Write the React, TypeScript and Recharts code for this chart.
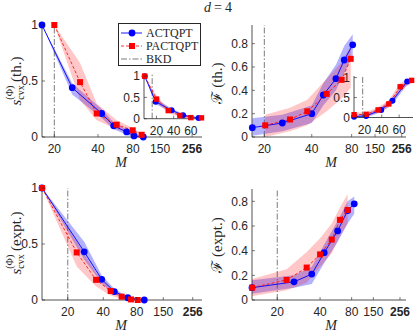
import React from 'react';
import { ComposedChart, Line, Area, XAxis, YAxis, ReferenceLine, Legend } from 'recharts';

const BLUE = '#0000ff';
const RED = '#ff0000';
const INK = '#262626';
const SANS = '"Liberation Sans", Arial, Helvetica, sans-serif';
const SERIF = '"Liberation Serif", "Times New Roman", "DejaVu Serif", serif';

// tick labels
const M_LABELS = ['20', '40', '80', '150', '256'];
const INSET_TICKS = [20, 40, 60];
const INSET_LABELS = ['20', '40', '60'];
const Y_TICKS_S = [0, 0.5, 1];
const Y_LABELS_S = ['0', '0.5', '1'];
const Y_TICKS_F = [0, 0.2, 0.4, 0.6, 0.8];
const Y_LABELS_F = ['0', '0.2', '0.4', '0.6', '0.8'];
const LEGEND_NAMES = ['ACTQPT', 'PACTQPT', 'BKD'];

// main panels: x is position along the (irregular) M axis, 0..100
// top-left: s_cvx (th.)
const TL_TICKS = [7.7, 35, 56.9, 73.8, 93.8];
const TL_BKD = 7.7;
const TL_A_X = [0, 18.9, 37.3, 44.8, 52.9, 57.5, 63.3];
const TL_A_Y = [1, 0.44, 0.21, 0.1, 0.045, 0.01, 0];
const TL_A_LO = [1, 0.38, 0.17, 0.07, 0.02, 0, 0];
const TL_A_HI = [1, 0.48, 0.25, 0.13, 0.07, 0.03, 0.01];
const TL_P_X = [7.7, 23.8, 34.2, 46.7, 56.7, 62.3];
const TL_P_Y = [1, 0.49, 0.21, 0.11, 0.06, 0.02];
const TL_P_LO = [1, 0.33, 0.15, 0.07, 0.03, 0];
const TL_P_HI = [1, 0.66, 0.3, 0.15, 0.08, 0.03];

// top-right: F (th.)
const TR_TICKS = [8, 38.8, 64.7, 79.9, 97.2];
const TR_BKD = 8;
const TR_A_X = [0.2, 19.7, 38.8, 46.3, 54.5, 59.9, 65.4];
const TR_A_Y = [0.08, 0.12, 0.2, 0.36, 0.5, 0.66, 0.79];
const TR_A_LO = [0.01, 0.05, 0.12, 0.27, 0.4, 0.55, 0.7];
const TR_A_HI = [0.16, 0.19, 0.27, 0.46, 0.62, 0.78, 0.88];
const TR_P_X = [8.6, 24.7, 35.9, 48.5, 58.2, 64.1];
const TR_P_Y = [0.1, 0.15, 0.22, 0.37, 0.49, 0.67];
const TR_P_LO = [0, 0.05, 0.1, 0.22, 0.33, 0.42];
const TR_P_HI = [0.19, 0.25, 0.32, 0.5, 0.64, 0.78];

// bottom-left: s_cvx (expt.)
const BL_TICKS = [16.1, 38.3, 59.2, 75.8, 94.2];
const BL_BKD = 16.1;
const BL_A_X = [0, 26.4, 37.3, 45.2, 53.6, 63.9];
const BL_A_Y = [1, 0.43, 0.185, 0.075, 0.02, 0];
const BL_A_LO = [1, 0.36, 0.15, 0.05, 0.01, 0];
const BL_A_HI = [1, 0.52, 0.22, 0.1, 0.03, 0.005];
const BL_P_X = [0, 21.7, 33.8, 42.9, 49.8, 55.6, 59.8];
const BL_P_Y = [1, 0.425, 0.18, 0.08, 0.03, 0.005, 0];
const BL_P_LO = [1, 0.3, 0.12, 0.04, 0.01, 0, 0];
const BL_P_HI = [1, 0.52, 0.24, 0.11, 0.05, 0.02, 0.01];

// bottom-right: F (expt.)
const BR_TICKS = [16.4, 44.2, 64.7, 78.8, 96.1];
const BR_BKD = 16.4;
const BR_A_X = [0, 27.3, 38.8, 46.9, 55.6, 62.1, 66.4];
const BR_A_Y = [0.1, 0.147, 0.21, 0.384, 0.56, 0.725, 0.78];
const BR_A_LO = [0.05, 0.1, 0.13, 0.3, 0.47, 0.62, 0.7];
const BR_A_HI = [0.16, 0.2, 0.27, 0.45, 0.64, 0.8, 0.84];
const BR_P_X = [0, 22.5, 35.5, 44.2, 51.8, 57.1, 62.1];
const BR_P_Y = [0.1, 0.163, 0.263, 0.37, 0.49, 0.65, 0.73];
const BR_P_LO = [0.03, 0.08, 0.14, 0.27, 0.38, 0.52, 0.62];
const BR_P_HI = [0.17, 0.25, 0.39, 0.5, 0.62, 0.75, 0.86];

// insets, x in M
const TLI_BKD = 15;
const TLI_A_X = [6.3, 19, 37.6, 51, 69];
const TLI_A_Y = [1, 0.4, 0.2, 0.08, 0.015];
const TLI_A_LO = [1, 0.34, 0.16, 0.05, 0];
const TLI_A_HI = [1, 0.46, 0.24, 0.11, 0.03];
const TLI_P_X = [6.3, 20.2, 33.7, 47.2, 60, 72.4];
const TLI_P_Y = [1, 0.46, 0.19, 0.075, 0.025, 0.02];
const TLI_P_LO = [1, 0.38, 0.14, 0.04, 0.01, 0];
const TLI_P_HI = [1, 0.54, 0.24, 0.11, 0.04, 0.03];

const TRI_BKD = 18;
const TRI_A_X = [8.1, 22, 39.3, 52.3, 69.3];
const TRI_A_Y = [0.02, 0.04, 0.19, 0.42, 0.9];
const TRI_A_LO = [0, 0, 0.13, 0.34, 0.82];
const TRI_A_HI = [0.06, 0.09, 0.25, 0.5, 0.96];
const TRI_P_X = [8.1, 22, 35.8, 48.1, 61.2, 74.4];
const TRI_P_Y = [0.07, 0.08, 0.19, 0.34, 0.77, 0.93];
const TRI_P_LO = [0.02, 0.03, 0.12, 0.25, 0.68, 0.86];
const TRI_P_HI = [0.12, 0.14, 0.26, 0.43, 0.86, 1];

const pts = (x: number[], y: number[], lo: number[], hi: number[]) =>
    x.map((v, i) => ({ x: v, y: y[i], band: [lo[i], hi[i]] }));

const LegendBox = () => (
    <div style={{
        width: 83, height: 43, boxSizing: 'border-box', border: `0.8px solid ${INK}`,
        background: '#fff', fontFamily: SERIF, fontSize: 12, color: INK, paddingTop: 2.5, paddingLeft: 2
    }}>
        {LEGEND_NAMES.map((name, i) => (
            <div key={name} style={{ display: 'flex', alignItems: 'center', height: 13, lineHeight: '13px' }}>
                <svg width={22} height={10}>
                    {i === 0 && <>
                        <line x1={0} x2={21} y1={5} y2={5} stroke={BLUE} strokeWidth={0.9} />
                        <circle cx={11} cy={5} r={3.4} fill={BLUE} />
                    </>}
                    {i === 1 && <>
                        <line x1={0} x2={21} y1={5} y2={5} stroke={RED} strokeWidth={0.8} strokeDasharray="3 2" />
                        <rect x={8} y={2} width={6} height={6} fill={RED} />
                    </>}
                    {i === 2 && <line x1={0} x2={21} y1={5} y2={5} stroke="#444" strokeWidth={0.7} strokeDasharray="6 2 1.5 2" />}
                </svg>
                <span style={{ marginLeft: 3 }}>{name}</span>
            </div>
        ))}
    </div>
);

type PanelProps = {
    box: { x: number; y: number; w: number; h: number };
    xDomain: [number, number];
    xTicks: number[];
    xLabels: string[];
    yDomain: [number, number];
    yTicks: number[];
    yLabels: string[];
    bkd: number;
    act: any[];
    pact: any[];
    inset?: boolean;
    legend?: boolean;
};

function Panel({ box, xDomain, xTicks, xLabels, yDomain, yTicks, yLabels, bkd, act, pact, inset, legend }: PanelProps) {
    const YW = 40, XH = 25, PT = 6, PR = 6;
    const r = inset ? 3 : 3.4;
    const sq = inset ? 5.4 : 6;

    const bottomTick = (p: any) => {
        const label = xLabels[xTicks.indexOf(p.payload.value)];
        return (
            <g>
                <line x1={p.x} x2={p.x} y1={p.y} y2={p.y - 3} stroke={INK} strokeWidth={0.6} />
                <text x={p.x} y={p.y + 16} textAnchor="middle" fontFamily={SANS} fontSize={12}
                    fontWeight={label === '256' ? 700 : 400} fill={INK}>{label}</text>
            </g>
        );
    };
    const topTick = (p: any) => <line x1={p.x} x2={p.x} y1={p.y} y2={p.y + 3} stroke={INK} strokeWidth={0.6} />;
    const leftTick = (p: any) => (
        <g>
            <line x1={p.x} x2={p.x + 3} y1={p.y} y2={p.y} stroke={INK} strokeWidth={0.6} />
            <text x={p.x - 4} y={p.y} dy="0.36em" textAnchor="end" fontFamily={SANS} fontSize={12} fill={INK}>
                {yLabels[yTicks.indexOf(p.payload.value)]}
            </text>
        </g>
    );
    const rightTick = (p: any) => <line x1={p.x} x2={p.x - 3} y1={p.y} y2={p.y} stroke={INK} strokeWidth={0.6} />;
    const square = (p: any) => (
        <rect key={`sq-${p.index}`} x={p.cx - sq / 2} y={p.cy - sq / 2} width={sq} height={sq} fill={RED} />
    );

    return (
        <>
            {inset && <div style={{ position: 'absolute', left: box.x, top: box.y, width: box.w, height: box.h, background: '#fff' }} />}
            <div style={{ position: 'absolute', left: box.x - YW, top: box.y - PT }}>
                <ComposedChart width={box.w + YW + PR} height={box.h + PT + XH} margin={{ top: PT, right: PR, bottom: 0, left: 0 }}>
                    <XAxis xAxisId="b" type="number" dataKey="x" domain={xDomain} ticks={xTicks} interval={0}
                        height={XH} tickSize={0} tickMargin={0} tickLine={false} stroke={INK} strokeWidth={0.8} tick={bottomTick} />
                    <XAxis xAxisId="t" orientation="top" type="number" dataKey="x" domain={xDomain} ticks={xTicks} interval={0}
                        height={0} tickSize={0} tickMargin={0} tickLine={false} stroke={INK} strokeWidth={0.8} tick={topTick} />
                    <YAxis yAxisId="l" type="number" domain={yDomain} ticks={yTicks} interval={0}
                        width={YW} tickSize={0} tickMargin={0} tickLine={false} stroke={INK} strokeWidth={0.8} tick={leftTick} />
                    <YAxis yAxisId="r" orientation="right" type="number" domain={yDomain} ticks={yTicks} interval={0}
                        width={0} tickSize={0} tickMargin={0} tickLine={false} stroke={INK} strokeWidth={0.8} tick={rightTick} />
                    <ReferenceLine xAxisId="b" yAxisId="l" x={bkd} stroke="#444" strokeWidth={0.7} strokeDasharray="6 2 1.5 2" />
                    <Area xAxisId="b" yAxisId="l" data={act} dataKey="band" type="linear" stroke="none"
                        fill={BLUE} fillOpacity={0.3} isAnimationActive={false} />
                    <Area xAxisId="b" yAxisId="l" data={pact} dataKey="band" type="linear" stroke="none"
                        fill={RED} fillOpacity={0.22} isAnimationActive={false} />
                    <Line xAxisId="b" yAxisId="l" data={act} dataKey="y" type="linear" stroke={BLUE} strokeWidth={0.9}
                        dot={{ r, fill: BLUE, stroke: BLUE, strokeWidth: 0 }} isAnimationActive={false} />
                    <Line xAxisId="b" yAxisId="l" data={pact} dataKey="y" type="linear" stroke={RED} strokeWidth={0.8}
                        strokeDasharray="3 2" dot={square} isAnimationActive={false} />
                    {legend && (
                        <Legend layout="vertical" align="center" verticalAlign="middle"
                            wrapperStyle={{ left: 116, top: 4, width: 83 }} content={() => <LegendBox />} />
                    )}
                </ComposedChart>
            </div>
        </>
    );
}

const SLabel = ({ x, y, tag }: { x: number; y: number; tag: string }) => (
    <text transform={`translate(${x},${y}) rotate(-90)`} textAnchor="middle" fontFamily={SERIF} fontSize={15} fill={INK}>
        <tspan fontStyle="italic">s</tspan>
        <tspan fontSize={10} dy={3}>cvx</tspan>
        <tspan fontSize={10} dx={-14.5} dy={-11}>(Φ)</tspan>
        <tspan dy={8}>{` (${tag})`}</tspan>
    </text>
);

const FLabel = ({ x, y, tag }: { x: number; y: number; tag: string }) => (
    <text transform={`translate(${x},${y}) rotate(-90)`} textAnchor="middle" fontFamily={SERIF} fontSize={15} fill={INK}>
        <tspan>ℱ</tspan>
        <tspan>{` (${tag})`}</tspan>
    </text>
);

export default function App() {
    return (
        <div style={{ position: 'absolute', left: 0, top: 0, width: 415, height: 332, background: '#fff', overflow: 'hidden' }}>
            <Panel box={{ x: 42, y: 25, w: 160, h: 112 }} xDomain={[0, 100]} xTicks={TL_TICKS} xLabels={M_LABELS}
                yDomain={[0, 1]} yTicks={Y_TICKS_S} yLabels={Y_LABELS_S} bkd={TL_BKD}
                act={pts(TL_A_X, TL_A_Y, TL_A_LO, TL_A_HI)} pact={pts(TL_P_X, TL_P_Y, TL_P_LO, TL_P_HI)} legend />
            <Panel box={{ x: 144, y: 74, w: 58, h: 44.7 }} xDomain={[5.5, 73]} xTicks={INSET_TICKS} xLabels={INSET_LABELS}
                yDomain={[0, 1.05]} yTicks={Y_TICKS_S} yLabels={Y_LABELS_S} bkd={TLI_BKD}
                act={pts(TLI_A_X, TLI_A_Y, TLI_A_LO, TLI_A_HI)} pact={pts(TLI_P_X, TLI_P_Y, TLI_P_LO, TLI_P_HI)} inset />

            <Panel box={{ x: 252, y: 25, w: 154, h: 112 }} xDomain={[0, 100]} xTicks={TR_TICKS} xLabels={M_LABELS}
                yDomain={[0, 0.96]} yTicks={Y_TICKS_F} yLabels={Y_LABELS_F} bkd={TR_BKD}
                act={pts(TR_A_X, TR_A_Y, TR_A_LO, TR_A_HI)} pact={pts(TR_P_X, TR_P_Y, TR_P_LO, TR_P_HI)} />
            <Panel box={{ x: 354, y: 76, w: 59, h: 41.5 }} xDomain={[8, 76]} xTicks={INSET_TICKS} xLabels={INSET_LABELS}
                yDomain={[0, 1.04]} yTicks={Y_TICKS_S} yLabels={Y_LABELS_S} bkd={TRI_BKD}
                act={pts(TRI_A_X, TRI_A_Y, TRI_A_LO, TRI_A_HI)} pact={pts(TRI_P_X, TRI_P_Y, TRI_P_LO, TRI_P_HI)} inset />

            <Panel box={{ x: 42, y: 188, w: 160, h: 112 }} xDomain={[0, 100]} xTicks={BL_TICKS} xLabels={M_LABELS}
                yDomain={[0, 1]} yTicks={Y_TICKS_S} yLabels={Y_LABELS_S} bkd={BL_BKD}
                act={pts(BL_A_X, BL_A_Y, BL_A_LO, BL_A_HI)} pact={pts(BL_P_X, BL_P_Y, BL_P_LO, BL_P_HI)} />
            <Panel box={{ x: 252, y: 189, w: 154, h: 111 }} xDomain={[0, 100]} xTicks={BR_TICKS} xLabels={M_LABELS}
                yDomain={[0, 0.9]} yTicks={Y_TICKS_F} yLabels={Y_LABELS_F} bkd={BR_BKD}
                act={pts(BR_A_X, BR_A_Y, BR_A_LO, BR_A_HI)} pact={pts(BR_P_X, BR_P_Y, BR_P_LO, BR_P_HI)} />

            <svg width={415} height={332} style={{ position: 'absolute', left: 0, top: 0, pointerEvents: 'none' }}>
                <text x={218} y={12} textAnchor="middle" fontFamily={SERIF} fontSize={14} fill={INK}>
                    <tspan fontStyle="italic">d</tspan>
                    <tspan dx={3}>=</tspan>
                    <tspan dx={3}>4</tspan>
                </text>
                <SLabel x={21} y={81} tag="th." />
                <FLabel x={222} y={83} tag="th." />
                <SLabel x={21} y={243} tag="expt." />
                <FLabel x={222} y={245} tag="expt." />
                <text x={121} y={167} textAnchor="middle" fontFamily={SERIF} fontStyle="italic" fontSize={14} fill={INK}>M</text>
                <text x={331} y={167} textAnchor="middle" fontFamily={SERIF} fontStyle="italic" fontSize={14} fill={INK}>M</text>
                <text x={121} y={330} textAnchor="middle" fontFamily={SERIF} fontStyle="italic" fontSize={14} fill={INK}>M</text>
                <text x={331} y={330} textAnchor="middle" fontFamily={SERIF} fontStyle="italic" fontSize={14} fill={INK}>M</text>
            </svg>
        </div>
    );
}
